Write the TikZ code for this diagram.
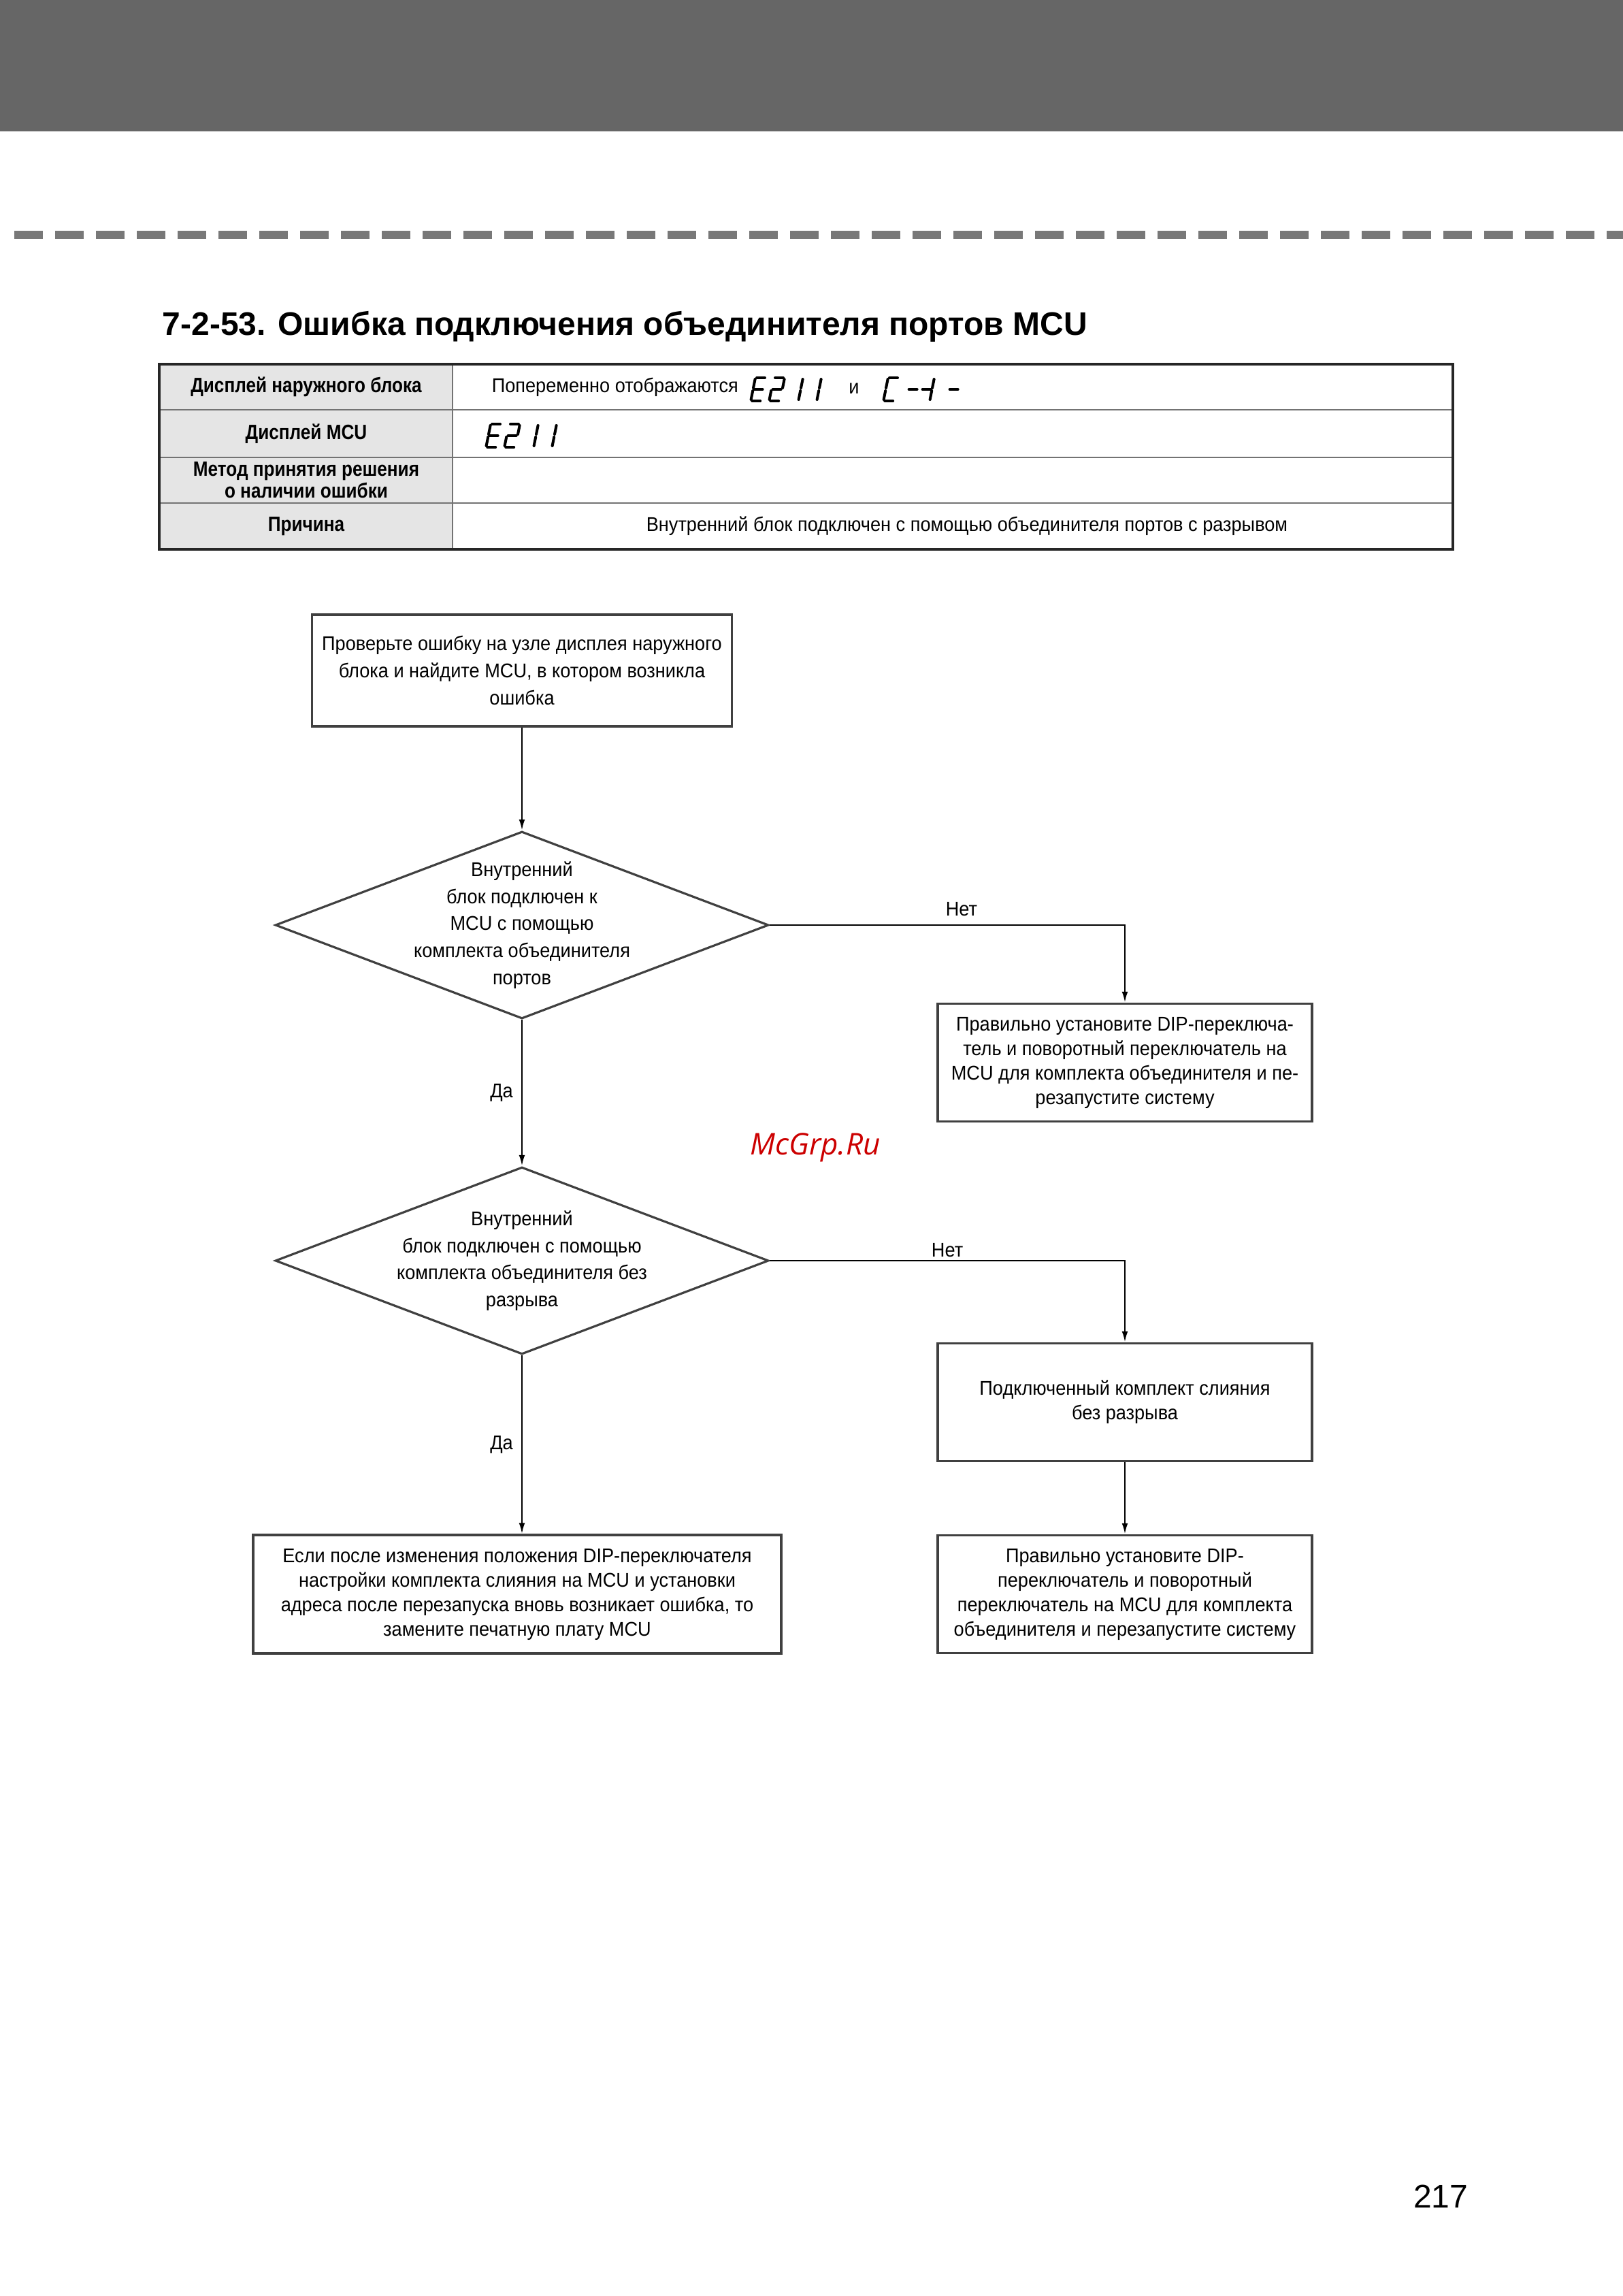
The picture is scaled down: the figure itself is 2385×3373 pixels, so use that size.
\documentclass[tikz,border=0pt]{standalone}
\usepackage{fontspec}
\setmainfont{Liberation Sans}
\newfontfamily\nfont[FakeStretch=0.93]{Liberation Sans}
\newfontfamily\hfont[FakeStretch=0.86]{Liberation Sans}
\newfontfamily\wmfont{Open Sans}
\usetikzlibrary{positioning,shapes.geometric,arrows.meta}
\definecolor{wmred}{RGB}{204,0,0}

% семисегментный индикатор
\tikzset{
  lcdseg/.style={line width=1pt, line cap=round},
  pics/lcd/.style={code={
    \path (2,0) coordinate (sa1) (14,0) coordinate (sa2)
          (16,2) coordinate (sb1) (16,15) coordinate (sb2)
          (16,19) coordinate (sc1) (16,32) coordinate (sc2)
          (2,34) coordinate (sd1) (14,34) coordinate (sd2)
          (0,19) coordinate (se1) (0,32) coordinate (se2)
          (0,2) coordinate (sf1) (0,15) coordinate (sf2)
          (2,17) coordinate (sg1) (14,17) coordinate (sg2);
    \foreach \s in {#1} {\draw[lcdseg] (s\s1) -- (s\s2);}
  }}
}

\begin{document}
\begin{tikzpicture}[x=0.25pt, y=-0.25pt,
    flowbox/.style={draw=black!75, line width=0.8pt, align=center, inner sep=0pt,
      minimum width=137.5pt, minimum height=43.25pt,
      font=\nfont\fontsize{7.3}{9}\selectfont},
    decision/.style={diamond, draw=black!75, line width=0.8pt, inner sep=0pt,
      minimum width=181.25pt, minimum height=68.75pt},
    dtext/.style={align=center, inner sep=0pt, font=\nfont\fontsize{7.3}{9.9}\selectfont},
    conn/.style={line width=0.6pt, -{Latex[length=4pt,width=2.2pt]}},
    lbl/.style={font=\nfont\fontsize{7.3}{9}\selectfont, inner sep=3pt},
    hdr/.style={align=center, inner sep=0pt, font=\hfont\bfseries\fontsize{7.6}{6.6}\selectfont},
    cell/.style={inner sep=0pt, font=\nfont\fontsize{7.3}{9}\selectfont},
    seven/.style={xslant=0.2}]
    \useasboundingbox (0,0) rectangle (2385,3373);

    % --- Шапка страницы ---
    \fill[black!60] (0,0) rectangle (2385,193);
    \draw[black!53, line width=3pt, dash pattern=on 10.5pt off 4.5pt] (21,345) -- (2385,345);
    \node[anchor=base west, inner sep=0pt, font=\bfseries\fontsize{12}{14}\selectfont] (title)
        at (238,492) {7-2-53. Ошибка подключения объединителя портов MCU};

    % --- Таблица ---
    \fill[black!10] (234,535) rectangle (665,807);
    \draw[black!55, line width=0.7pt] (234,602) -- (2135,602) (234,672) -- (2135,672)
        (234,739) -- (2135,739) (665,535) -- (665,807);
    \draw[black!85, line width=1pt] (234,535) rectangle (2135,807);

    \node[hdr] (h1) at (450,568) {Дисплей наружного блока};
    \node[hdr] (h2) at (450,637) {Дисплей MCU};
    \node[hdr] (h3) at (450,705) {Метод принятия решения\\о наличии ошибки};
    \node[hdr] (h4) at (450,773) {Причина};

    \node[cell, anchor=west] (r1) at (722,569) {Попеременно отображаются};
    \pic[seven] at (1110,555) {lcd={a,d,e,f,g}};
    \pic[seven] at (1137,555) {lcd={a,b,g,e,d}};
    \pic[seven] at (1164,555) {lcd={b,c}};
    \pic[seven] at (1191,555) {lcd={b,c}};
    \node[cell] (r1i) at (1255,571) {и};
    \pic[seven] at (1305,555) {lcd={a,d,e,f}};
    \pic[seven] at (1337,555) {lcd={g}};
    \pic[seven] at (1357,555) {lcd={b,c,g}};
    \pic[seven] at (1397,555) {lcd={g}};
    % дисплей MCU
    \pic[seven] at (721,623) {lcd={a,d,e,f,g}};
    \pic[seven] at (748,623) {lcd={a,b,g,e,d}};
    \pic[seven] at (775,623) {lcd={b,c}};
    \pic[seven] at (802,623) {lcd={b,c}};
    \node[cell] (r4) at (1421,773) {Внутренний блок подключен с помощью объединителя портов с разрывом};

    % --- Блок-схема ---
    \node[flowbox, minimum width=154.25pt, minimum height=41pt,
          font=\nfont\fontsize{7.3}{10.1}\selectfont] (chk) at (767,985)
        {Проверьте ошибку на узле дисплея наружного\\блока и найдите MCU, в котором возникла\\ошибка};
    \node[decision] (d1) at (767,1359) {};
    \node[dtext] (d1t) at (d1) {Внутренний\\блок подключен к\\MCU с помощью\\комплекта объединителя\\портов};
    \node[flowbox] (fix1) at (1653,1561)
        {Правильно установите DIP-переключа-\\тель и поворотный переключатель на\\MCU для комплекта объединителя и пе-\\резапустите систему};
    \node[decision] (d2) at (767,1852) {};
    \node[dtext] (d2t) at (d2) {Внутренний\\блок подключен с помощью\\комплекта объединителя без\\разрыва};
    \node[flowbox] (kit) at (1653,2060) {Подключенный комплект слияния\\без разрыва};
    \node[flowbox] (fix2) at (1653,2342)
        {Правильно установите DIP-\\переключатель и поворотный\\переключатель на MCU для комплекта\\объединителя и перезапустите систему};
    \node[flowbox, minimum width=194pt, minimum height=43.5pt] (pcb) at (760,2342)
        {Если после изменения положения DIP-переключателя\\настройки комплекта слияния на MCU и установки\\адреса после перезапуска вновь возникает ошибка, то\\замените печатную плату MCU};

    % Связи
    \draw[conn] (chk.south) -- (d1.north);
    \draw[conn] (d1.east) -| node[lbl, pos=0.27, above] (no1) {Нет} (fix1.north);
    \draw[conn] (d1.south) -- node[lbl, left] (yes1) {Да} (d2.north);
    \draw[conn] (d2.east) -| node[lbl, pos=0.25, above, inner sep=1pt] (no2) {Нет} (kit.north);
    \draw[conn] (kit.south) -- (fix2.north);
    \draw[conn] (d2.south) -- node[lbl, left] (yes2) {Да} (d2.south |- pcb.north);

    % Водяной знак и номер страницы
    \node[text=wmred, font=\wmfont\itshape\fontsize{11}{13}\selectfont] (wm) at (1198,1686) {McGrp.Ru};
    \node[anchor=base east, inner sep=0pt, font=\fontsize{12}{14}\selectfont] (pg) at (2158,3243) {217};
\end{tikzpicture}
\end{document}
